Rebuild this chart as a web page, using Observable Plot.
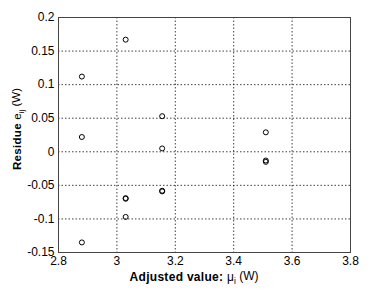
<!DOCTYPE html>
<html><head><meta charset="utf-8">
<script src="https://cdn.jsdelivr.net/npm/d3@7"></script>
<script src="https://cdn.jsdelivr.net/npm/@observablehq/plot@0.6"></script>
<style>body{margin:0;background:#fff}</style>
</head><body><div id="chart"></div>
<script>
const adjusted = [2.88, 2.88, 2.88, 3.03, 3.03, 3.03, 3.03, 3.155, 3.155, 3.155, 3.155, 3.51, 3.51, 3.51];
const residue  = [0.112, 0.022, -0.135, 0.167, -0.069, -0.070, -0.097, 0.053, 0.005, -0.058, -0.059, 0.029, -0.013, -0.015];
const xTicks = [2.8, 3, 3.2, 3.4, 3.6, 3.8];
const yTicks = [-0.15, -0.1, -0.05, 0, 0.05, 0.1, 0.15, 0.2];
const xLabel = ["Adjusted value: ", "\u03bc", "i", " (W)"];
const yLabel = ["Residue ", "e", "ij", " (W)"];

const data = adjusted.map((x, i) => ({x, y: residue[i]}));
const font = "'Liberation Sans', Arial, Helvetica, sans-serif";

const plot = Plot.plot({
  width: 370, height: 291,
  marginLeft: 58, marginRight: 20, marginTop: 17, marginBottom: 39,
  style: {fontFamily: font, fontSize: "12px", background: "#fff", color: "#000", overflow: "visible"},
  x: {domain: [2.8, 3.8]},
  y: {domain: [-0.15, 0.2]},
  marks: [
    Plot.gridX(xTicks, {stroke: "#000", strokeOpacity: 0.75, strokeDasharray: "1.5,2"}),
    Plot.gridY(yTicks, {stroke: "#000", strokeOpacity: 0.75, strokeDasharray: "1.5,2"}),
    Plot.frame({stroke: "#444"}),
    Plot.axisX(xTicks, {tickSize: 0, tickPadding: 4, tickFormat: d => String(d), label: null, fontSize: 12}),
    Plot.axisY(yTicks, {tickSize: 0, tickPadding: 4, tickFormat: d => String(d), label: null, fontSize: 12}),
    Plot.dot(data, {x: "x", y: "y", r: 2.5, stroke: "#000", strokeWidth: 1, fill: "none"})
  ]
});
document.getElementById("chart").appendChild(plot);

const svg = d3.select(plot);
function addLabel(parts, x, y, rotate, size) {
  const t = svg.append("text")
    .attr("text-anchor", "middle")
    .attr("font-family", font)
    .attr("font-size", size)
    .attr("fill", "#000")
    .attr("transform", `translate(${x},${y})` + (rotate ? ` rotate(${rotate})` : ""));
  t.append("tspan").attr("font-weight", "bold").attr("letter-spacing", "0.3px").text(parts[0]);
  t.append("tspan").text(parts[1]);
  t.append("tspan").attr("font-size", size * 0.7).attr("dy", "0.35em").text(parts[2]);
  t.append("tspan").attr("dy", "-0.3em").text(parts[3]);
}
addLabel(xLabel, 194, 281, 0, 12);
addLabel(yLabel, 21, 129, -90, 11.5);
</script>
</body></html>
